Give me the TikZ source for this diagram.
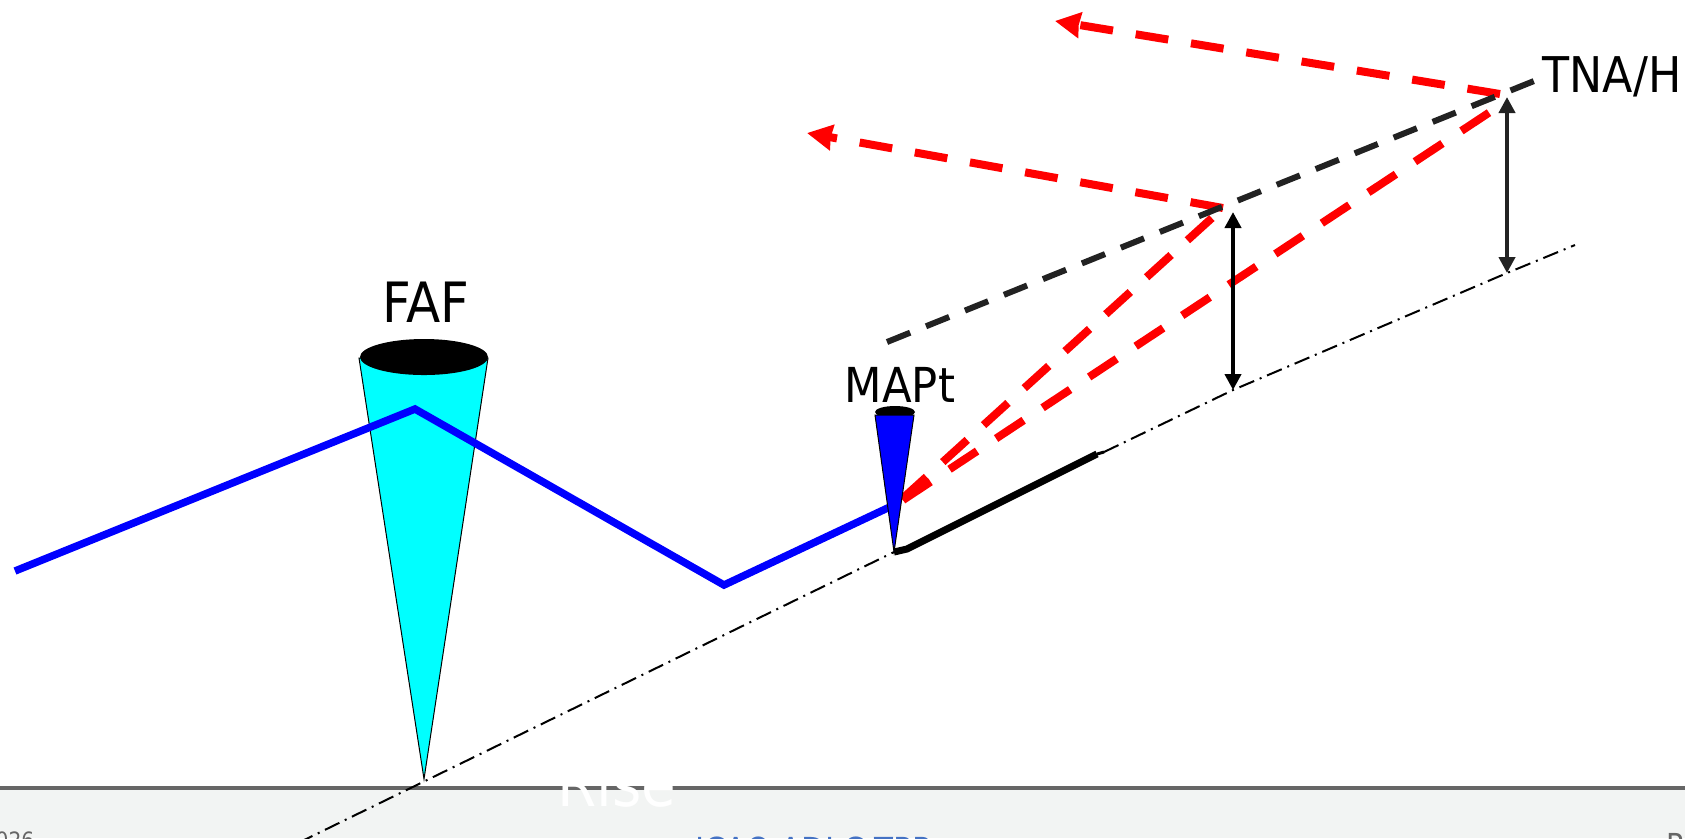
\documentclass[tikz,border=0pt]{standalone}
\usepackage{xcolor}
\usepackage{fontspec}
\setmainfont{DejaVu Sans}[FakeStretch=0.9]
\usetikzlibrary{arrows.meta,positioning,calc}
\definecolor{ink}{HTML}{222222}
\definecolor{sred}{HTML}{FF0000}
\definecolor{sblue}{HTML}{0000FF}
\definecolor{scyan}{HTML}{00FFFF}
\definecolor{muted}{HTML}{666666}
\definecolor{band}{HTML}{F2F4F3}
\definecolor{linkblue}{HTML}{4472C4}
\tikzset{
  redline/.style={sred, line width=0.08cm, dash pattern=on 0.33cm off 0.2275cm},
  greyline/.style={ink, line width=0.06cm, dash pattern=on 0.25cm off 0.17cm},
  refline/.style={black, line width=0.02cm, dash pattern=on 0.16cm off 0.06cm on 0.02cm off 0.06cm},
  cone/.style={draw=black, line width=0.01cm},
  heightarrow/.style={line width=0.045cm, {Stealth[length=0.16cm,width=0.16cm,inset=0pt]}-{Stealth[length=0.16cm,width=0.16cm,inset=0pt]}},
  redarrow/.style={-{Stealth[length=0.25cm,width=0.25cm,inset=0.01cm]}},
}
\begin{document}
\begin{tikzpicture}[x=0.01cm, y=-0.01cm]
\useasboundingbox (0,0) rectangle (1685,838);
\coordinate (FAFtop) at (424,357);
\coordinate (FAFleft) at (359,358);
\coordinate (FAFright) at (488,358);
\coordinate (FAFbase) at (424,779);
\coordinate (MAPtop) at (895,412);
\coordinate (MAPleft) at (875,415);
\coordinate (MAPright) at (914,415);
\coordinate (MAPbase) at (894,552);
\coordinate (PathA) at (15,571);
\coordinate (PathB) at (415,409);
\coordinate (PathC) at (724,585);
\coordinate (PathD) at (894,505);
\coordinate (RefStart) at (298,843);
\coordinate (RwyA) at (907,549);
\coordinate (RwyB) at (1097,454);
\coordinate (RwyEnd) at (1104,452);
\coordinate (RefMid) at (1233,390);
\coordinate (RefFoot) at (1507,273);
\coordinate (RefEnd) at (1575,245);
\coordinate (SplayA) at (902,499);
\coordinate (SplayB) at (903,500);
\coordinate (TurnLow) at (1213,217);
\coordinate (TurnHigh) at (1490,112);
\coordinate (MissLow) at (1223,208);
\coordinate (MissHigh) at (1500,94);
\coordinate (TipLow) at (807,133);
\coordinate (TipHigh) at (1055,21);
\coordinate (SurfStart) at (887,342);
\coordinate (SurfEnd) at (1534,81);
\coordinate (ArrowLow) at (1233,212);
\coordinate (ArrowHigh) at (1507,97);
\coordinate (GroundL) at (0,788);
\coordinate (GroundR) at (1685,788);
\fill[band] (0,788) rectangle (1685,838);
\draw[muted, line width=0.04cm] (GroundL) -- (GroundR);
\node[white, font=\fontsize{17.8}{20}\selectfont, anchor=base, inner sep=0pt] (rise) at (617,806) {Rise};
\node[muted, font=\fontsize{6.4}{8}\selectfont, anchor=base east, inner sep=0pt] (year) at (35,848) {2026};
\node[linkblue, font=\fontsize{9.8}{12}\selectfont, anchor=base, inner sep=0pt] (footer) at (813,862) {ICAO ADLC TPP};
\node[muted, font=\fontsize{9}{11}\selectfont, anchor=base west, inner sep=0pt] (page) at (1666,856) {P};
\filldraw[cone, fill=scyan] (FAFleft) -- (FAFright) -- (FAFbase) -- cycle;
\fill[black] (FAFtop) ellipse [x radius=64, y radius=18];
\draw[refline] (RefStart) -- (MAPbase);
\draw[refline] (RwyEnd) -- (RefMid) -- (RefFoot) -- (RefEnd);
\draw[black, line width=0.07cm] (MAPbase) -- (RwyA) -- (RwyB);
\draw[black, line width=0.03cm] (RwyB) -- (RwyEnd);
\draw[redline] (SplayB) -- (TurnHigh);
\draw[redline, dash pattern=on 0.33cm off 0.22cm] (SplayA) -- (TurnLow);
\draw[redline, dash pattern=on 0.33cm off 0.23cm, redarrow] (MissHigh) -- (TipHigh);
\draw[redline, dash pattern=on 0.33cm off 0.23cm, redarrow] (MissLow) -- (TipLow);
\draw[greyline] (SurfStart) -- (SurfEnd);
\draw[sblue, line width=0.075cm] (PathA) -- (PathB) -- (PathC) -- (PathD);
\fill[black] (MAPtop) ellipse [x radius=20, y radius=6];
\filldraw[cone, fill=sblue] (MAPleft) -- (MAPright) -- (MAPbase) -- cycle;
\draw[heightarrow, black] (ArrowLow) -- (RefMid);
\draw[heightarrow, ink] (ArrowHigh) -- (RefFoot);
\node[font=\fontsize{15.8}{18}\selectfont, anchor=base, inner sep=0pt] (FAF) at (426,322) {FAF};
\node[font=\fontsize{13.7}{16}\selectfont, anchor=base, inner sep=0pt] (MAPt) at (900,402) {MAPt};
\node[font=\fontsize{14}{16}\selectfont, anchor=base west, inner sep=0pt] (TNA) at (1542,92) {TNA/H};
\end{tikzpicture}
\end{document}
